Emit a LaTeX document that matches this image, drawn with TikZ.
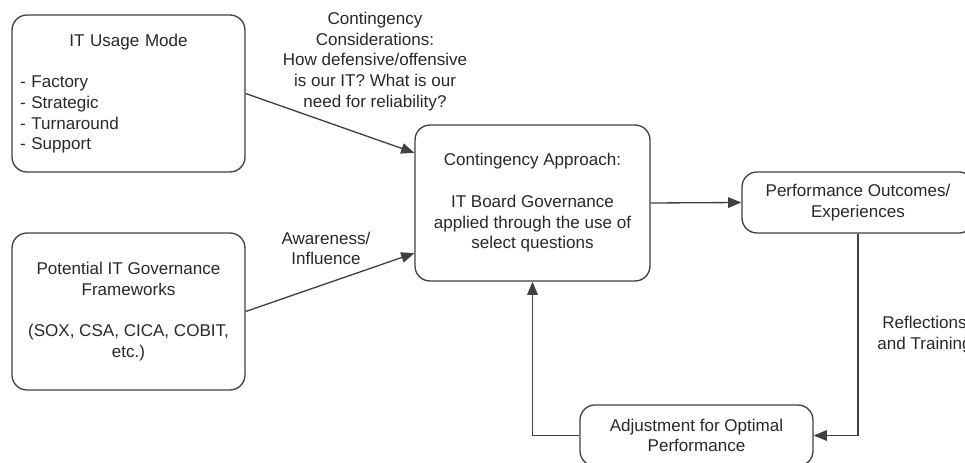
\documentclass[tikz,border=0pt]{standalone}
\usepackage{fontspec}
\setmainfont{Liberation Sans}
\usepackage{xcolor}
\usetikzlibrary{arrows.meta}
\definecolor{edge}{RGB}{64,64,64}
\definecolor{ink}{RGB}{40,40,40}

\begin{document}
\begin{tikzpicture}[x=0.02cm, y=-0.02cm,
  every node/.style={font=\fontsize{9.7}{11.8}\selectfont, text=ink},
  box/.style={draw=edge, line width=0.75pt, rounded corners=0.3cm, inner sep=0pt, align=center},
  lbl/.style={align=center},
  arr/.style={draw=edge, line width=0.75pt, -{Triangle[length=7.5pt, width=6pt]}}]
  % Page frame
  \useasboundingbox (0,0) rectangle (965,463);
  \clip (0,0) rectangle (965,463);

  % Input boxes
  \node[box, minimum width=4.66cm, minimum height=3.14cm, text width=4.34cm, align=left] (usage) at (128.5,93.5)
    {\makebox[\linewidth]{IT Usage Mode}\\[\baselineskip]- Factory\\- Strategic\\- Turnaround\\- Support};
  \node[box, minimum width=4.66cm, minimum height=3.14cm] (frame) at (128.5,311.5)
    {Potential IT Governance\\Frameworks\\[\baselineskip](SOX, CSA, CICA, COBIT,\\etc.)};

  % Central approach
  \node[box, minimum width=4.7cm, minimum height=3.12cm] (approach) at (532.5,203)
    {Contingency Approach:\\[\baselineskip]IT Board Governance\\applied through the use of\\select questions};

  % Outcome and feedback loop
  \node[box, minimum width=4.64cm, minimum height=1.22cm] (perform) at (858,202.5)
    {Performance Outcomes/\\Experiences};
  \node[box, minimum width=4.66cm, minimum height=1.22cm] (adjust) at (696.5,435.5)
    {Adjustment for Optimal\\Performance};

  % Connectors
  \draw[arr] (usage.east) -- (approach.157);
  \draw[arr] (frame.east) -- (approach.203);
  \draw[arr] (approach.east) -- (perform.west);
  \draw[arr] (perform.south) |- (adjust.east);
  \draw[arr] (adjust.west) -| (approach.south);

  % Connector labels
  \node[lbl] (consider) at (375,61.5) {Contingency\\Considerations:\\How defensive/offensive\\is our IT? What is our\\need for reliability?};
  \node[lbl] (aware) at (326,248.5) {Awareness/\\Influence};
  \node[lbl] (reflect) at (924.5,334.5) {Reflections\\and Training};
\end{tikzpicture}
\end{document}
